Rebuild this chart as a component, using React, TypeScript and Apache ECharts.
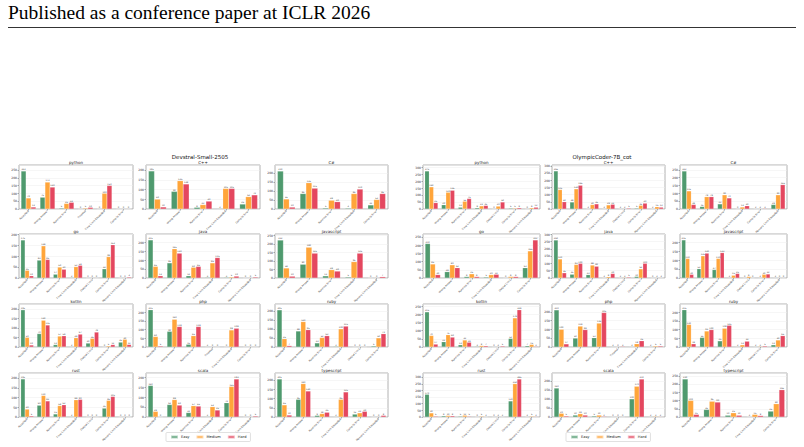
import React, { useEffect, useRef } from "react";
import * as echarts from "echarts";

const SERIES_NAMES = ["Easy", "Medium", "Hard"];
const SERIES_COLORS = ["#4f9a6e", "#ffa53a", "#e4475f"];

const PANEL_TITLES = ["Devstral-Small-2505", "OlympicCoder-7B_cot"];
const LANGS = ["python", "C++", "C#", "go", "java", "javascript", "kotlin", "php", "ruby", "rust", "scala", "typescript"];

// category label sets
const C5 = ["Accepted", "Wrong Answer", "Runtime Error", "Time Limit Exceeded", "Compile Error"];
const C6a = ["Accepted", "Wrong Answer", "Runtime Error", "Timeout", "Time Limit Exceeded", "Compile Error"];
const C6b = ["Accepted", "Wrong Answer", "Runtime Error", "Time Limit Exceeded", "Compile Error", "Memory Limit Exceeded"];
const C6c = ["Accepted", "Wrong Answer", "Runtime Error", "Time Limit Exceeded", "Output Limit", "Compile Error"];
const C7 = ["Accepted", "Wrong Answer", "Runtime Error", "Time Limit Exceeded", "Output Limit", "Compile Error", "Memory Limit Exceeded"];
const C5j = ["Accepted", "Wrong Answer", "Runtime Error", "Time Limit Exceeded", "Memory Limit Exceeded"];

// ---- Devstral-Small-2505 ----
const devCats = [C6a, C5, C5, C7, C6b, C5j, C7, C6a, C6c, C7, C6b, C6b];
const devEasy = [
  [243, 75, 5, 0, 0, 0],
  [195, 90, 8, 2, 25],
  [210, 85, 5, 4, 22],
  [175, 82, 17, 2, 0, 42, 0],
  [215, 85, 12, 3, 3, 0],
  [222, 80, 12, 5, 0],
  [195, 70, 12, 2, 20, 0, 25],
  [215, 90, 15, 2, 0, 0],
  [205, 88, 22, 3, 0, 5],
  [195, 60, 15, 2, 0, 45, 0],
  [160, 63, 22, 2, 72, 0],
  [205, 95, 8, 2, 15, 0],
];
const devMedium = [
  [70, 172, 35, 5, 100, 0],
  [50, 145, 22, 105, 63],
  [55, 145, 48, 85, 52],
  [35, 148, 50, 52, 0, 98, 0],
  [65, 165, 60, 85, 5, 0],
  [58, 180, 48, 95, 0],
  [50, 140, 57, 48, 45, 5, 40],
  [60, 160, 65, 0, 98, 0],
  [45, 140, 52, 100, 0, 50],
  [40, 110, 58, 88, 0, 85, 0],
  [28, 88, 57, 52, 155, 0],
  [65, 180, 18, 95, 22, 0],
];
const devHard = [
  [12, 140, 42, 10, 150, 0],
  [10, 128, 40, 105, 72],
  [10, 115, 40, 110, 85],
  [10, 85, 40, 58, 0, 153, 4],
  [12, 140, 65, 115, 10, 5],
  [10, 145, 40, 145, 7],
  [10, 115, 58, 67, 78, 12, 13],
  [5, 118, 118, 0, 108, 0],
  [7, 95, 62, 115, 0, 73],
  [5, 82, 62, 90, 0, 105, 0],
  [0, 60, 55, 35, 193, 5],
  [10, 140, 25, 135, 30, 8],
];

// ---- OlympicCoder-7B_cot ----
const olyCats = [C7, C7, C6b, C6c, C7, C7, C7, C6a, C6c, C7, C6b, C5];
const olyEasy = [
  [275, 30, 12, 8, 0, 5, 0],
  [265, 48, 2, 2, 2, 5, 2],
  [242, 15, 32, 0, 2, 28],
  [210, 38, 8, 5, 0, 62],
  [260, 25, 22, 2, 2, 10, 0],
  [215, 52, 47, 2, 0, 2, 2],
  [215, 32, 13, 3, 0, 52, 7],
  [210, 50, 52, 2, 2, 2],
  [215, 55, 35, 2, 2, 12],
  [170, 8, 5, 0, 0, 120, 2],
  [160, 10, 5, 0, 100, 2],
  [230, 45, 10, 2, 35],
];
const olyMedium = [
  [160, 120, 55, 22, 20, 5, 8],
  [135, 140, 30, 28, 2, 25, 15],
  [115, 78, 90, 12, 2, 90],
  [85, 80, 25, 20, 8, 165],
  [130, 92, 88, 8, 3, 62, 2],
  [110, 125, 110, 15, 8, 20, 0],
  [70, 75, 42, 8, 2, 178, 15],
  [100, 118, 135, 0, 18, 5],
  [130, 92, 108, 12, 3, 40],
  [30, 10, 12, 5, 2, 250, 5],
  [20, 18, 10, 0, 170, 3],
  [100, 95, 25, 15, 80],
];
const olyHard = [
  [45, 135, 75, 25, 50, 8, 12],
  [50, 165, 35, 32, 5, 40, 12],
  [28, 78, 70, 20, 3, 155],
  [20, 62, 8, 22, 8, 232],
  [35, 100, 80, 30, 5, 100, 2],
  [20, 140, 143, 25, 0, 22, 0],
  [17, 60, 28, 7, 5, 228, 3],
  [17, 98, 195, 3, 35, 5],
  [18, 100, 125, 33, 5, 65],
  [5, 8, 5, 3, 2, 285, 3],
  [5, 10, 3, 0, 210, 2],
  [15, 90, 10, 8, 165],
];

const FONT = "DejaVu Sans";

function buildOption() {
  const colsL = [[19, 133], [146, 260], [275, 388]];
  const colsR = [[423, 540], [552, 665], [680, 787]];
  const rows = [[165, 209], [234, 278], [304, 347], [373, 417]];
  const panels = [
    { cols: colsL, cats: devCats, vals: [devEasy, devMedium, devHard], center: 200 },
    { cols: colsR, cats: olyCats, vals: [olyEasy, olyMedium, olyHard], center: 602 },
  ];
  const grid: any[] = [];
  const xAxis: any[] = [];
  const yAxis: any[] = [];
  const series: any[] = [];
  const graphic: any[] = [
    {
      type: "text",
      left: 8,
      top: 2,
      style: { text: "Published as a conference paper at ICLR 2026", font: "19.5px 'Liberation Serif'", fill: "#000" },
    },
    { type: "line", shape: { x1: 8, y1: 27.5, x2: 796, y2: 27.5 }, style: { stroke: "#000", lineWidth: 0.8 } },
  ];
  let gi = 0;
  panels.forEach((p, pi) => {
    graphic.push({
      type: "text",
      x: p.center,
      y: 157.3,
      style: { text: PANEL_TITLES[pi], font: `5.5px '${FONT}'`, fill: "#111", textAlign: "center", textVerticalAlign: "middle" },
    });
    LANGS.forEach((lang, li) => {
      const r = Math.floor(li / 3);
      const c = li % 3;
      const [x0, x1] = p.cols[c];
      const [y0, y1] = rows[r];
      grid.push({ left: x0, top: y0, width: x1 - x0, height: y1 - y0, show: true, borderColor: "#a0a0a0", borderWidth: 0.8, containLabel: false });
      graphic.push({
        type: "text",
        x: (x0 + x1) / 2,
        y: y0 - 0.6,
        style: { text: lang, font: `4px '${FONT}'`, fill: "#222", textAlign: "center", textVerticalAlign: "bottom" },
      });
      const mx = Math.max(...p.vals[0][li], ...p.vals[1][li], ...p.vals[2][li]);
      xAxis.push({
        type: "category",
        gridIndex: gi,
        data: p.cats[li],
        axisLine: { show: false },
        axisTick: { show: true, alignWithLabel: true, length: 1.5, lineStyle: { color: "#666", width: 0.5 } },
        axisLabel: { interval: 0, rotate: 45, fontSize: 2.6, fontFamily: FONT, color: "#333", margin: 2 },
        splitLine: { show: false },
      });
      yAxis.push({
        type: "value",
        gridIndex: gi,
        min: 0,
        max: Math.round(mx * 1.16),
        interval: 50,
        axisLine: { show: false },
        axisTick: { show: true, length: 1.5, lineStyle: { color: "#666", width: 0.5 } },
        axisLabel: { fontSize: 3, fontFamily: FONT, color: "#333", margin: 2, showMaxLabel: false },
        splitLine: { show: true, lineStyle: { color: "#ececec", width: 0.5 } },
      });
      for (let s = 0; s < 3; s++) {
        series.push({
          type: "bar",
          name: SERIES_NAMES[s],
          xAxisIndex: gi,
          yAxisIndex: gi,
          data: p.vals[s][li],
          barGap: "0%",
          barCategoryGap: "22%",
          itemStyle: { color: SERIES_COLORS[s], borderColor: "rgba(255,255,255,0.6)", borderWidth: 0.3 },
          label: { show: true, position: "top", distance: 0.6, fontSize: 2.2, fontFamily: FONT, color: "#444" },
        });
      }
      gi++;
    });
  });
  const legendBase = {
    data: SERIES_NAMES,
    top: 432.5,
    orient: "horizontal",
    itemWidth: 7,
    itemHeight: 3,
    itemGap: 6,
    padding: [2, 4],
    borderColor: "#cccccc",
    borderWidth: 0.6,
    borderRadius: 1,
    backgroundColor: "#fff",
    textStyle: { fontSize: 3.6, fontFamily: FONT, color: "#222", padding: [0, 0, 0, -2] },
    icon: "rect",
  };
  const legend = [
    { ...legendBase, left: 166 },
    { ...legendBase, left: 566 },
  ];
  return {
    animation: false,
    backgroundColor: "#fff",
    grid,
    xAxis,
    yAxis,
    series,
    legend,
    graphic,
  };
}

export default function App() {
  const ref = useRef<HTMLDivElement>(null);
  useEffect(() => {
    if (!ref.current) return;
    const chart = echarts.init(ref.current, undefined, { renderer: "svg" });
    chart.setOption(buildOption() as any);
    return () => chart.dispose();
  }, []);
  return <div ref={ref} style={{ position: "fixed", left: 0, top: 0, width: 804, height: 447 }} />;
}
